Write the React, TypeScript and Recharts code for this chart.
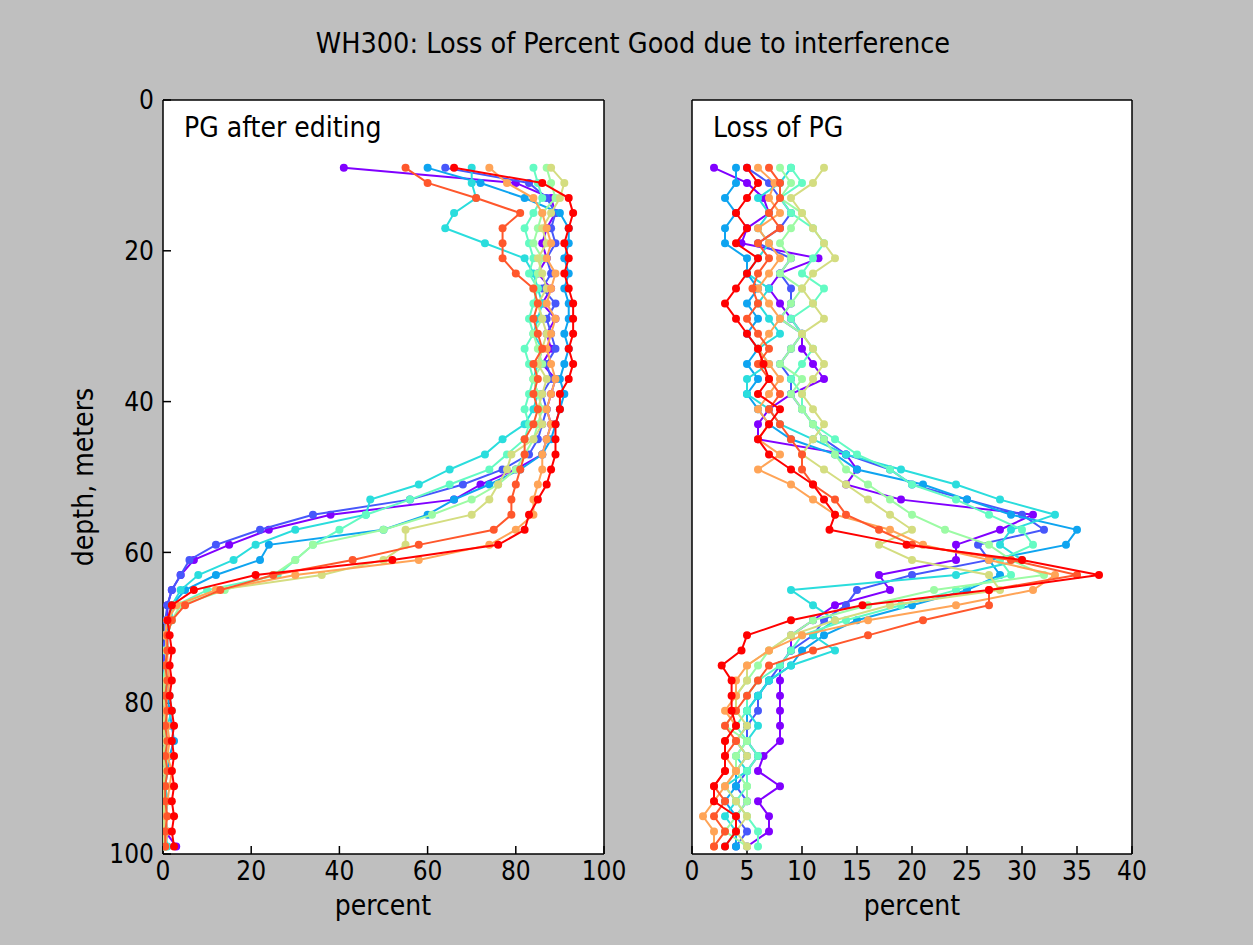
import React from 'react';
import { ScatterChart, Scatter, XAxis, YAxis, CartesianGrid } from 'recharts';

// depth bins, meters
const depths = [9, 11, 13, 15, 17, 19, 21, 23, 25, 27, 29, 31, 33, 35, 37, 39, 41, 43, 45, 47, 49, 51, 53, 55, 57, 59, 61, 63, 65, 67, 69, 71, 73, 75, 77, 79, 81, 83, 85, 87, 89, 91, 93, 95, 97, 99];

// matplotlib "rainbow" colors, one per profile
const colors = ['#8000ff', '#4757fb', '#0ea4f0', '#2adddd', '#63fbc3', '#9cfba4', '#d4dd80', '#ffa457', '#ff572c', '#ff0000'];

// PG after editing (percent), one array per profile
const pg0 = [41, 80, 88, 89, 87, 86, 87, 85, 88, 86, 89, 87, 88, 86, 89, 88, 87, 88, 87, 86, 80, 72, 66, 38, 24, 15, 7, 4, 2, 1, 1, 0.5, 0.5, 0, 0.5, 0, 0, 0.5, 0, 0.5, 0, 0, 0.5, 0, 0.5, 3];
const pg1 = [64, 83, 87, 89, 88, 89, 87, 88, 86, 89, 87, 88, 89, 87, 88, 86, 87, 86, 85, 83, 77, 68, 56, 34, 22, 12, 6, 4, 2, 1, 0.5, 0.5, 0, 0.5, 0, 0.5, 0, 0, 0.5, 0, 0, 0.5, 0, 0, 0.5, 0];
const pg2 = [60, 72, 82, 90, 92, 92, 91, 92, 91, 92, 92, 91, 92, 91, 90, 91, 90, 89, 88, 86, 81, 74, 66, 60, 50, 24, 22, 12, 5, 2, 1, 1, 0.5, 1, 0.5, 1, 1.5, 2, 2.5, 1.5, 1, 0.5, 1, 0.5, 1, 0.5];
const pg3 = [70, 70, 71, 66, 64, 73, 82, 84, 85, 86, 85, 84, 86, 85, 84, 85, 84, 82, 77, 73, 65, 58, 47, 46, 30, 21, 16, 8, 4, 2, 2, 1, 1, 0.5, 1, 1.5, 2, 1, 0.5, 1, 0.5, 0.5, 1, 0.5, 0.5, 1];
const pg4 = [84, 85, 86, 84, 82, 83, 84, 83, 85, 84, 83, 84, 82, 83, 84, 83, 82, 83, 82, 78, 74, 65, 56, 46, 40, 34, 30, 26, 10, 3, 1, 0.5, 1, 0.5, 0, 0.5, 0.5, 1, 0.5, 0, 0.5, 0.5, 0, 0.5, 0, 0.5];
const pg5 = [87, 88, 89, 86, 85, 84, 86, 85, 84, 85, 86, 84, 85, 86, 84, 85, 86, 85, 84, 82, 80, 76, 70, 61, 50, 34, 30, 25, 14, 4, 2, 1, 0.5, 1, 0.5, 0, 0.5, 0, 0.5, 1, 0.5, 0, 0.5, 0, 0.5, 0];
const pg6 = [88, 91, 90, 88, 86, 87, 85, 86, 87, 85, 86, 87, 86, 85, 87, 86, 85, 86, 84, 79, 78, 76, 74, 70, 55, 55, 50, 36, 12, 3, 1, 0.5, 1, 0.5, 0.5, 0, 0.5, 0, 0.5, 0, 0.5, 0, 0, 0.5, 0, 0.5];
const pg7 = [74, 78, 84, 86, 87, 88, 87, 89, 88, 87, 89, 88, 87, 88, 89, 88, 87, 88, 87, 86, 86, 85, 84, 84, 80, 74, 58, 30, 12, 3, 1, 0.5, 1, 1, 1.5, 1, 0.5, 1, 1.5, 1, 2, 1.5, 1, 0.5, 1, 0.5];
const pg8 = [55, 60, 71, 81, 77, 77, 77, 80, 84, 85, 84, 85, 86, 84, 85, 84, 85, 84, 82, 82, 81, 80, 79, 79, 75, 58, 43, 25, 13, 5, 2, 1, 1, 0.5, 1, 0.5, 1, 0.5, 1, 0.5, 1, 0.5, 0.5, 1, 0.5, 0.5];
const pg9 = [66, 86, 92, 93, 92, 91, 92, 91, 92, 93, 93, 93, 92, 93, 92, 90, 90, 89, 89, 89, 88, 87, 85, 83, 82, 76, 52, 21, 7, 2, 1, 1.5, 2, 1.5, 2, 1.5, 2, 2.5, 2, 2.5, 2, 2.5, 2, 2.5, 2, 2.5];

// Loss of PG (percent)
const loss0 = [2, 5, 6.5, 7, 5, 4.5, 11.5, 8, 7, 8, 9, 10, 10, 11, 12, 9, 7, 6, 6, 14, 15, 14, 19, 31, 28, 24, 24, 17, 18, 13, 11, 9, 9, 8, 8, 8, 8, 8, 8, 6.5, 6, 8, 6, 7, 7, 5];
const loss1 = [5, 7, 8, 9, 8, 6, 9, 8, 9, 9, 8, 10, 9, 8, 9, 9, 10, 11, 12, 14, 18, 20, 25, 30, 32, 26, 27, 20, 15, 14, 12, 11, 9, 8, 7, 6, 6, 5, 5, 6, 5, 4, 5, 4, 5, 4];
const loss2 = [4, 4, 3, 4, 3, 3, 5, 5, 6, 5, 6, 5, 6, 5, 6, 5, 6, 7, 9, 13, 15, 21, 25, 29, 35, 34, 27, 28, 25, 20, 15, 12, 10, 9, 7, 6, 5, 5, 4, 5, 4, 4, 3, 4, 4, 4];
const loss3 = [9, 8, 6, 7, 6, 7, 6, 5, 7, 6, 7, 8, 6, 7, 5, 5, 7, 8, 11, 14, 19, 24, 28, 33, 29, 28, 30, 24, 9, 11, 13, 11, 13, 9, 7, 6, 5, 6, 5, 4, 5, 3, 4, 3, 4, 3];
const loss4 = [9, 10, 8, 9, 11, 12, 11, 10, 12, 11, 9, 10, 11, 10, 9, 10, 10, 11, 13, 15, 18, 20, 24, 27, 30, 31, 28, 29, 24, 19, 14, 10, 9, 8, 6, 5, 5, 4, 5, 6, 5, 5, 4, 5, 6, 6];
const loss5 = [8, 9, 8, 10, 9, 8, 9, 8, 10, 9, 8, 10, 9, 8, 10, 9, 10, 11, 12, 13, 14, 16, 18, 20, 23, 27, 29, 32, 22, 16, 11, 9, 7, 6, 5, 4, 4, 3, 5, 4, 4, 5, 5, 4, 3, 5];
const loss6 = [12, 11, 9, 10, 11, 12, 13, 11, 10, 11, 12, 10, 11, 12, 11, 10, 11, 12, 11, 10, 12, 14, 16, 18, 20, 17, 20, 27, 28, 18, 13, 9, 7, 5, 5, 4, 4, 5, 4, 5, 4, 3, 4, 5, 4, 5];
const loss7 = [6, 7.5, 7, 8, 6, 7, 8, 7, 6, 7, 8, 7, 6, 7, 8, 7, 6, 7, 6, 8, 6, 9, 11, 13, 18, 21, 27, 33, 31, 24, 16, 10, 7, 5, 4, 4, 3, 4, 3, 3, 4, 3, 2, 1, 2, 2];
const loss8 = [7, 8, 8, 7, 8, 6, 7, 6, 5.5, 6, 5, 6, 7, 6, 7, 8, 7, 8, 9, 10, 10, 11, 13, 14, 17, 20, 29, 35, 27, 27, 21, 16, 11, 7, 6, 5, 4, 3, 4, 3, 3, 2, 3, 2, 3, 2];
const loss9 = [5, 6, 5, 4, 5, 4, 6, 5, 4, 3, 4, 5, 6, 6.5, 7, 6, 8, 7, 6, 7, 9, 11, 12, 13, 12.5, 19.5, 30, 37, 27, 15.5, 9, 5, 4.5, 2.7, 3.6, 3.6, 3.6, 4, 3, 3, 3, 2, 2, 4, 4, 3];

const pgSeries = [pg0, pg1, pg2, pg3, pg4, pg5, pg6, pg7, pg8, pg9];
const lossSeries = [loss0, loss1, loss2, loss3, loss4, loss5, loss6, loss7, loss8, loss9];

const pgTicks = [0, 20, 40, 60, 80, 100];
const lossTicks = [0, 5, 10, 15, 20, 25, 30, 35, 40];
const depthTicks = [0, 20, 40, 60, 80, 100];

const FONT = '"DejaVu Sans Condensed", "DejaVu Sans", sans-serif';
const tickStyle = { fill: '#000', fontSize: 26, fontFamily: FONT };
const black = { stroke: '#000', strokeWidth: 1.5 };

function toPoints(vals: number[]) {
  return vals.map((v, i) => ({ x: v, y: depths[i] }));
}

type PanelProps = {
  series: number[][];
  xMax: number;
  xTicks: number[];
  showDepthLabels: boolean;
  width: number;
  margin: { top: number; right: number; bottom: number; left: number };
  yWidth: number;
};

function Panel({ series, xMax, xTicks, showDepthLabels, width, margin, yWidth }: PanelProps) {
  return (
    <ScatterChart width={width} height={945} margin={margin}>
      <CartesianGrid fill="#fff" horizontal={false} vertical={false} />
      <XAxis
        type="number"
        dataKey="x"
        domain={[0, xMax]}
        ticks={xTicks}
        orientation="bottom"
        height={40}
        tickSize={-8}
        tickMargin={16}
        axisLine={black}
        tickLine={black}
        tick={tickStyle}
        allowDataOverflow
      />
      <XAxis
        xAxisId="top"
        type="number"
        dataKey="x"
        domain={[0, xMax]}
        ticks={xTicks}
        orientation="top"
        height={1}
        tickSize={-8}
        axisLine={black}
        tickLine={black}
        tick={false}
        allowDataOverflow
      />
      <YAxis
        type="number"
        dataKey="y"
        domain={[0, 100]}
        ticks={depthTicks}
        reversed
        width={yWidth}
        tickSize={-8}
        tickMargin={17}
        axisLine={black}
        tickLine={black}
        tick={showDepthLabels ? tickStyle : false}
        allowDataOverflow
      />
      <YAxis
        yAxisId="right"
        type="number"
        dataKey="y"
        domain={[0, 100]}
        ticks={depthTicks}
        reversed
        orientation="right"
        width={1}
        tickSize={-8}
        axisLine={black}
        tickLine={black}
        tick={false}
        allowDataOverflow
      />
      {series.map((vals, k) => (
        <Scatter
          key={k}
          data={toPoints(vals)}
          line={{ stroke: colors[k], strokeWidth: 2 }}
          shape={(p: any) => <circle cx={p.cx} cy={p.cy} r={4} fill={colors[k]} />}
          isAnimationActive={false}
        />
      ))}
    </ScatterChart>
  );
}

export default function App() {
  return (
    <div style={{ position: 'absolute', left: 0, top: 0, width: 1253, height: 945, background: '#bfbfbf', overflow: 'hidden' }}>
      <div style={{ position: 'absolute', left: 0, top: 0 }}>
        <Panel
          series={pgSeries}
          xMax={100}
          xTicks={pgTicks}
          showDepthLabels
          width={640}
          margin={{ top: 99, right: 35, bottom: 51, left: 103 }}
          yWidth={60}
        />
      </div>
      <div style={{ position: 'absolute', left: 640, top: 0 }}>
        <Panel
          series={lossSeries}
          xMax={40}
          xTicks={lossTicks}
          showDepthLabels={false}
          width={613}
          margin={{ top: 99, right: 120, bottom: 51, left: 42 }}
          yWidth={10}
        />
      </div>
      <svg width={1253} height={945} style={{ position: 'absolute', left: 0, top: 0, pointerEvents: 'none' }}>
        <g fontFamily={FONT} fill="#000">
          <text x={633} y={53} textAnchor="middle" fontSize={28.5}>WH300: Loss of Percent Good due to interference</text>
          <text x={184} y={137} fontSize={28}>PG after editing</text>
          <text x={713} y={137} fontSize={28}>Loss of PG</text>
          <text x={383} y={915} textAnchor="middle" fontSize={28}>percent</text>
          <text x={912} y={915} textAnchor="middle" fontSize={28}>percent</text>
          <text x={93} y={477} textAnchor="middle" fontSize={28} transform="rotate(-90 93 477)">depth, meters</text>
        </g>
      </svg>
    </div>
  );
}
